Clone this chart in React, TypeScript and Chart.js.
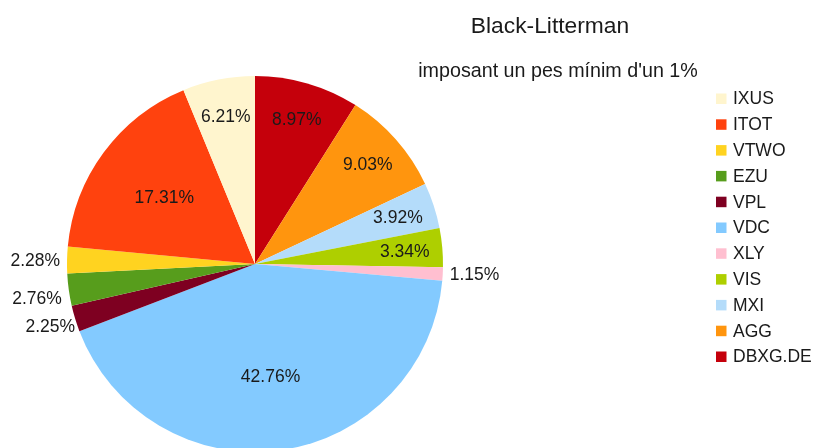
import React, { useEffect, useRef } from "react";
import { Chart, registerables } from "chart.js";

Chart.register(...registerables);

const labels = ["DBXG.DE", "AGG", "MXI", "VIS", "XLY", "VDC", "VPL", "EZU", "VTWO", "ITOT", "IXUS"];
const values = [8.97, 9.03, 3.92, 3.34, 1.15, 42.76, 2.25, 2.76, 2.28, 17.31, 6.21];
const colors = ["#c5000b", "#ff950e", "#b4dcfa", "#aecf00", "#ffbfd0", "#83caff", "#7e0021", "#579d1c", "#ffd320", "#ff420e", "#fff5ce"];
const titleText = "Black-Litterman";
const subtitleText = "imposant un pes mínim d'un 1%";

const FONT = "'Liberation Sans', Arial, sans-serif";
const TEXT = "#1a1a1a";

const decorPlugin = {
  id: "decor",
  afterDraw(chart: any) {
    const ctx = chart.ctx as CanvasRenderingContext2D;
    ctx.save();
    // titles
    ctx.fillStyle = TEXT;
    ctx.textAlign = "center";
    ctx.textBaseline = "alphabetic";
    ctx.font = `22.8px ${FONT}`;
    ctx.fillText(titleText, 550, 33);
    ctx.font = `19.7px ${FONT}`;
    ctx.fillText(subtitleText, 558, 77);

    // legend (reverse order)
    ctx.font = `17.5px ${FONT}`;
    ctx.textAlign = "left";
    ctx.textBaseline = "middle";
    const n = labels.length;
    for (let k = 0; k < n; k++) {
      const i = n - 1 - k;
      const y = 98.5 + k * 25.8;
      ctx.fillStyle = colors[i];
      ctx.fillRect(716, y - 5, 10.5, 10.5);
      ctx.fillStyle = TEXT;
      ctx.fillText(labels[i], 733, y + 1);
    }

    // data labels
    const meta = chart.getDatasetMeta(0);
    const total = values.reduce((a, b) => a + b, 0);
    ctx.font = `17.5px ${FONT}`;
    meta.data.forEach((arc: any, i: number) => {
      const p = arc.getProps(["x", "y", "startAngle", "endAngle", "outerRadius"], true);
      const mid = (p.startAngle + p.endAngle) / 2;
      const frac = values[i] / total;
      const txt = values[i].toFixed(2) + "%";
      const c = Math.cos(mid);
      const s = Math.sin(mid);
      ctx.fillStyle = TEXT;
      if (frac < 0.03) {
        const r = p.outerRadius + (Math.abs(s) < 0.2 ? 7 : 0);
        const px = p.x + c * r;
        const py = p.y + s * r;
        ctx.textAlign = c >= 0 ? "left" : "right";
        if (Math.abs(s) < 0.08) {
          ctx.textBaseline = "middle";
          ctx.fillText(txt, px, py + 1);
        } else if (s > 0) {
          ctx.textBaseline = "top";
          ctx.fillText(txt, px, py);
        } else {
          ctx.textBaseline = "bottom";
          ctx.fillText(txt, px, py);
        }
      } else {
        const r = p.outerRadius * (frac > 0.15 ? 0.6 : 0.8);
        ctx.textAlign = "center";
        ctx.textBaseline = "middle";
        ctx.fillText(txt, p.x + c * r, p.y + s * r + 1);
      }
    });
    ctx.restore();
  },
};

export default function App() {
  const ref = useRef<HTMLCanvasElement | null>(null);
  useEffect(() => {
    document.body.style.margin = "0";
    document.body.style.overflow = "hidden";
    const chart = new Chart(ref.current as HTMLCanvasElement, {
      type: "pie",
      data: {
        labels,
        datasets: [
          {
            data: values,
            backgroundColor: colors,
            borderWidth: 0,
          },
        ],
      },
      options: {
        animation: false,
        responsive: false,
        maintainAspectRatio: false,
        devicePixelRatio: 1,
        layout: { padding: { left: 67, right: 371, top: 76, bottom: 8 } },
        plugins: {
          legend: { display: false },
          title: { display: false },
          tooltip: { enabled: false },
        },
      },
      plugins: [decorPlugin],
    });
    return () => chart.destroy();
  }, []);
  return (
    <div style={{ position: "fixed", left: 0, top: 0, width: 814, height: 448, overflow: "hidden", background: "#fff" }}>
      <canvas ref={ref} width={814} height={460} style={{ display: "block", width: 814, height: 460 }} />
    </div>
  );
}
